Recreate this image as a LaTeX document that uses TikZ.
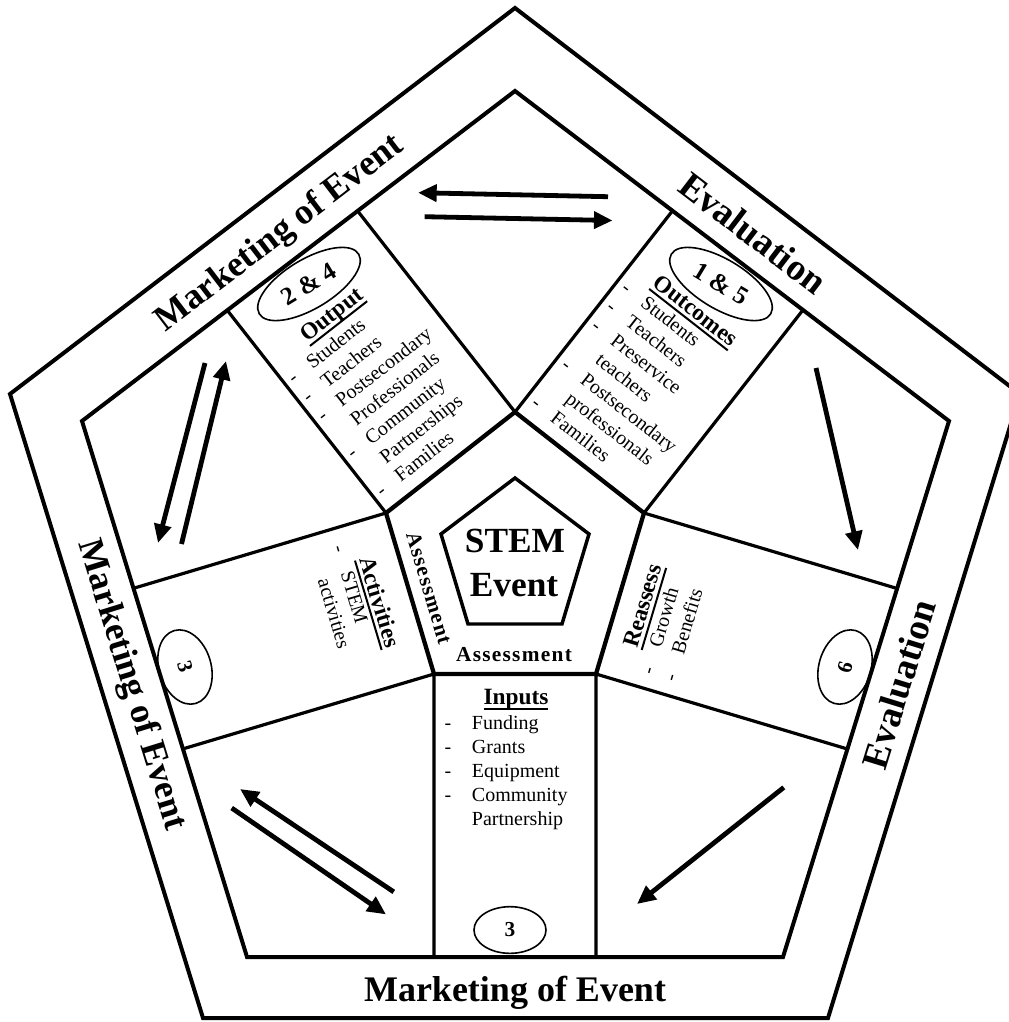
\documentclass[tikz,border=0pt]{standalone}
\usepackage{fontspec}
\setmainfont{Liberation Serif}
\usetikzlibrary{arrows.meta,shapes.geometric}
\newcommand{\myul}[1]{\leavevmode\setbox0=\hbox{#1}\rlap{\vrule width \wd0 height -2.4pt depth 3.9pt}\box0}
\begin{document}
\begin{tikzpicture}[x=0.75pt,y=-0.75pt,
  bandtext/.style={font=\fontsize{27pt}{32pt}\selectfont\bfseries, inner sep=0pt},
  evaltext/.style={font=\fontsize{28pt}{33pt}\selectfont\bfseries, inner sep=0pt},
  headtext/.style={font=\fontsize{17.5pt}{21pt}\selectfont\bfseries, inner sep=0pt},
  itemtext/.style={font=\fontsize{15pt}{18pt}\selectfont, inner sep=0pt},
  asstext/.style={font=\fontsize{16pt}{19pt}\selectfont\bfseries\addfontfeature{LetterSpace=6}, inner sep=0pt},
  stemtext/.style={font=\fontsize{26.5pt}{32pt}\selectfont\bfseries, inner sep=0pt},
  ovalnode/.style={draw, ellipse, line width=1.2pt, inner sep=0pt, font=\fontsize{16pt}{19pt}\selectfont\bfseries},
  bigoval/.style={ovalnode, font=\fontsize{19pt}{22pt}\selectfont\bfseries, minimum width=87pt, minimum height=37pt},
  pentline/.style={line width=3pt, line join=miter},
  stripline/.style={line width=2.4pt},
  hubline/.style={line width=3.2pt, line join=miter},
  arrowline/.style={line width=3.6pt, -{Triangle[length=14pt,width=12.5pt]}},
]
\useasboundingbox (0,0) rectangle (1009,1022);
\fill[white] (0,0) rectangle (1009,1022);
\clip (0,0) rectangle (1009,1022);

% outer pentagon
\coordinate (O1) at (515,8);
\coordinate (O2) at (1020,394);
\coordinate (O3) at (828,1018);
\coordinate (O4) at (203,1018);
\coordinate (O5) at (10,394);
% inner pentagon
\coordinate (I1) at (515,91);
\coordinate (I2) at (949,421);
\coordinate (I3) at (783,957);
\coordinate (I4) at (247,957);
\coordinate (I5) at (82,421);
% hub
\coordinate (H1) at (515,412);
\coordinate (H2) at (644,513);
\coordinate (H3) at (596,674);
\coordinate (H4) at (434,674);
\coordinate (H5) at (386,513);
% strip ends
\coordinate (A1) at (357.6,210.9);
\coordinate (A5) at (227.3,310.3);
\coordinate (B1) at (672.4,210.9);
\coordinate (B2) at (802.7,310.3);
\coordinate (C5) at (133.5,588.3);
\coordinate (C4) at (182.9,748.9);
\coordinate (D2) at (896.5,588.3);
\coordinate (D3) at (847.1,748.9);
\coordinate (E4) at (434,957);
\coordinate (E3) at (596,957);
% STEM pentagon
\coordinate (S1) at (515,478);
\coordinate (S2) at (589,534);
\coordinate (S3) at (562,624);
\coordinate (S4) at (468,624);
\coordinate (S5) at (441,534);

\draw[pentline] (O1) -- (O2) -- (O3) -- (O4) -- (O5) -- cycle;
\draw[pentline] (I1) -- (I2) -- (I3) -- (I4) -- (I5) -- cycle;
\draw[stripline] (H1) -- (A1) (H5) -- (A5) (H1) -- (B1) (H2) -- (B2)
  (H5) -- (C5) (H4) -- (C4) (H2) -- (D2) (H3) -- (D3) (H4) -- (E4) (H3) -- (E3);
\draw[hubline] (H1) -- (H2) -- (H3) -- (H4) -- (H5) -- cycle;
\draw[line width=2.6pt, line join=miter] (S1) -- (S2) -- (S3) -- (S4) -- (S5) -- cycle;

% arrows
\coordinate (t1a) at (608,196.7); \coordinate (t1b) at (418,192.7);
\coordinate (t2a) at (424.7,216.7); \coordinate (t2b) at (612.6,220.5);
\coordinate (l1a) at (205,363); \coordinate (l1b) at (158,543);
\coordinate (l2a) at (181.5,544); \coordinate (l2b) at (226,361);
\coordinate (r1a) at (816,368); \coordinate (r1b) at (858,550);
\coordinate (b1a) at (393.8,891.9); \coordinate (b1b) at (240,789);
\coordinate (b2a) at (231.7,808); \coordinate (b2b) at (386,914.4);
\coordinate (b3a) at (783.8,787.4); \coordinate (b3b) at (637,904);
\draw[arrowline] (t1a) -- (t1b);
\draw[arrowline] (t2a) -- (t2b);
\draw[arrowline] (l1a) -- (l1b);
\draw[arrowline] (l2a) -- (l2b);
\draw[arrowline] (r1a) -- (r1b);
\draw[arrowline] (b1a) -- (b1b);
\draw[arrowline] (b2a) -- (b2b);
\draw[arrowline] (b3a) -- (b3b);

% band labels
\node[bandtext, rotate=37.4] (mkt1) at (280,234) {Marketing of Event};
\node[evaltext, rotate=-37.4] (ev1) at (753,233) {Evaluation};
\node[bandtext, rotate=-72.8] (mkt2) at (131,685) {Marketing of Event};
\node[evaltext, rotate=72.8] (ev2) at (899,684) {Evaluation};
\node[bandtext, anchor=base] (mkt3) at (515,1001) {Marketing of Event};

% centre
\node[stemtext, anchor=base] (stem) at (515,552.7) {STEM};
\node[stemtext, anchor=base] (event) at (514,596.7) {Event};
\node[asstext, anchor=base] (ass1) at (514,661) {Assessment};
\node[asstext, rotate=-73.4] (ass2) at (429,588) {Assessment};

% Inputs
\begin{scope}[shift={(471.7,729.3)}]
  \node[headtext, anchor=base] (inh) at (44.3,-25) {\myul{Inputs}};
  \foreach \t [count=\i from 0] in {Funding, Grants, Equipment, Community, Partnership}
    \node[itemtext, anchor=base west] (in-\i) at (0,{24.1*\i}) {\t};
  \foreach \k in {0,1,2,3}
    \node[itemtext, anchor=base] (ind-\k) at (-23.7,{24.1*\k}) {-};
\end{scope}
\node[ovalnode, minimum width=54pt, minimum height=35pt] (o3b) at (510,930) {3};

% Output
\begin{scope}[shift={(312.3,370.1)}, rotate=38, transform shape]
  \node[headtext, anchor=base] (outh) at (49.3,-24.7) {\myul{Output}};
  \foreach \t [count=\i from 0] in {Students, Teachers, Postsecondary, Professionals, Community, Partnerships, Families}
    \node[itemtext, anchor=base west] (out-\i) at (0,{23.9*\i}) {\t};
  \foreach \k in {0,1,2,4,6}
    \node[itemtext, anchor=base] (outd-\k) at (-20,{23.9*\k}) {-};
\end{scope}
\node[bigoval, rotate=31] (o24) at (309,284) {2 \& 4};

% Outcomes
\begin{scope}[shift={(639.3,305.1)}, rotate=-38, transform shape]
  \node[headtext, anchor=base] (outch) at (47.7,-23) {\myul{Outcomes}};
  \foreach \t [count=\i from 0] in {Students, Teachers, Preservice, teachers, Postsecondary, professionals, Families}
    \node[itemtext, anchor=base west] (outc-\i) at (0,{24.4*\i}) {\t};
  \foreach \k in {0,1,2,4,6}
    \node[itemtext, anchor=base] (outcd-\k) at (-20.6,{24.4*\k}) {-};
\end{scope}
\node[bigoval, rotate=-31] (o15) at (721,284) {1 \& 5};

% Activities
\begin{scope}[shift={(340.5,573.6)}, rotate=-73.4, transform shape]
  \node[headtext, anchor=base] (acth) at (38.3,-21.8) {\myul{Activities}};
  \node[itemtext, anchor=base west] (act-0) at (0,0) {STEM};
  \node[itemtext, anchor=base west] (act-1) at (0,24) {activities};
  \node[itemtext, anchor=base] (actd-0) at (-24,0) {-};
\end{scope}
\node[ovalnode, rotate=-73.4, minimum width=57pt, minimum height=39pt] (o3a) at (185,667) {3};

% Reassess
\begin{scope}[shift={(661.2,648.6)}, rotate=73.4, transform shape]
  \node[headtext, anchor=base] (reh) at (35.9,-22.5) {\myul{Reassess}};
  \node[itemtext, anchor=base west] (re-0) at (0,0) {Growth};
  \node[itemtext, anchor=base west] (re-1) at (0,23.5) {Benefits};
  \node[itemtext, anchor=base] (red-0) at (-24.9,0) {-};
  \node[itemtext, anchor=base] (red-1) at (-24.9,23.5) {-};
\end{scope}
\node[ovalnode, rotate=73.4, minimum width=57pt, minimum height=39pt] (o6) at (845,667) {6};
\end{tikzpicture}
\end{document}
